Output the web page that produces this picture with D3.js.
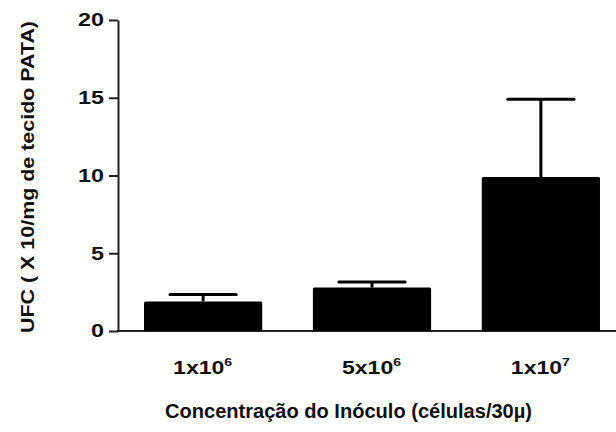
<!DOCTYPE html>
<html>
<head>
<meta charset="utf-8">
<script src="https://cdnjs.cloudflare.com/ajax/libs/d3/7.8.5/d3.min.js"></script>
<style>
  body { margin: 0; background: #fff; }
  text { font-family: "Liberation Sans", Arial, sans-serif; font-weight: bold; fill: #111; }
</style>
</head>
<body>
<svg width="616" height="432"></svg>
<script>
// dados
var categories = ["1x10", "5x10", "1x10"];
var exponents = ["6", "6", "7"];
var means = [1.9, 2.8, 9.9];
var errors = [0.45, 0.35, 5.0];
var yTicks = [0, 5, 10, 15, 20];

var svg = d3.select("svg");
var mLeft = 118, mRight = 626, mTop = 20, mBottom = 331;

var x = d3.scaleBand()
    .domain(d3.range(categories.length))
    .range([mLeft, mRight])
    .paddingInner(0.3)
    .paddingOuter(0.154);

var y = d3.scaleLinear().domain([0, 20]).range([mBottom, mTop]);

// eixo y
var yAxis = svg.append("g")
    .attr("transform", "translate(" + mLeft + ",0)")
    .call(d3.axisLeft(y).tickValues(yTicks).tickSize(9).tickSizeOuter(0).tickPadding(5));
yAxis.select(".domain").attr("stroke", "#222").attr("stroke-width", 2);
yAxis.selectAll(".tick line").attr("stroke", "#222").attr("stroke-width", 2);
yAxis.selectAll(".tick text")
    .attr("font-size", 18)
    .attr("font-family", "'Liberation Sans', Arial, sans-serif")
    .attr("font-weight", "bold")
    .attr("textLength", function (d) { return String(d).length * 13; })
    .attr("lengthAdjust", "spacingAndGlyphs")
    .attr("fill", "#111");

// eixo x
svg.append("line")
    .attr("x1", mLeft - 1).attr("x2", 616)
    .attr("y1", mBottom).attr("y2", mBottom)
    .attr("stroke", "#222").attr("stroke-width", 2);

// barras
svg.selectAll(".bar")
    .data(means)
    .enter().append("rect")
    .attr("class", "bar")
    .attr("x", function (d, i) { return x(i); })
    .attr("y", function (d) { return y(d); })
    .attr("width", x.bandwidth())
    .attr("height", function (d) { return y(0) - y(d); })
    .attr("rx", 1.5)
    .attr("fill", "#000");

// barras de erro
var capW = x.bandwidth() * 0.56;
var eb = svg.selectAll(".err")
    .data(means)
    .enter().append("g")
    .attr("class", "err");
eb.append("line")
    .attr("x1", function (d, i) { return x(i) + x.bandwidth() / 2; })
    .attr("x2", function (d, i) { return x(i) + x.bandwidth() / 2; })
    .attr("y1", function (d) { return y(d); })
    .attr("y2", function (d, i) { return y(d + errors[i]); })
    .attr("stroke", "#000").attr("stroke-width", 3);
eb.append("line")
    .attr("x1", function (d, i) { return x(i) + x.bandwidth() / 2 - capW / 2; })
    .attr("x2", function (d, i) { return x(i) + x.bandwidth() / 2 + capW / 2; })
    .attr("y1", function (d, i) { return y(d + errors[i]); })
    .attr("y2", function (d, i) { return y(d + errors[i]); })
    .attr("stroke", "#000").attr("stroke-width", 3)
    .attr("stroke-linecap", "round");

// rótulos x
var lab = svg.selectAll(".xlab")
    .data(categories)
    .enter().append("text")
    .attr("class", "xlab")
    .attr("x", function (d, i) { return x(i) + x.bandwidth() / 2 - 30; })
    .attr("y", 374)
    .attr("textLength", 59)
    .attr("lengthAdjust", "spacingAndGlyphs")
    .style("font-size", "18px");
lab.append("tspan").text(function (d) { return d; });
lab.append("tspan")
    .attr("dy", -8)
    .style("font-size", "11px")
    .text(function (d, i) { return exponents[i]; });

// títulos
svg.append("text")
    .attr("x", 165)
    .attr("y", 418)
    .attr("textLength", 367)
    .attr("lengthAdjust", "spacingAndGlyphs")
    .style("font-size", "20px")
    .text("Concentração do Inóculo (células/30µ)");

svg.append("text")
    .attr("transform", "translate(34,333) rotate(-90)")
    .attr("textLength", 312)
    .attr("lengthAdjust", "spacingAndGlyphs")
    .style("font-size", "19px")
    .text("UFC ( X 10/mg de tecido PATA)");
</script>
</body>
</html>
